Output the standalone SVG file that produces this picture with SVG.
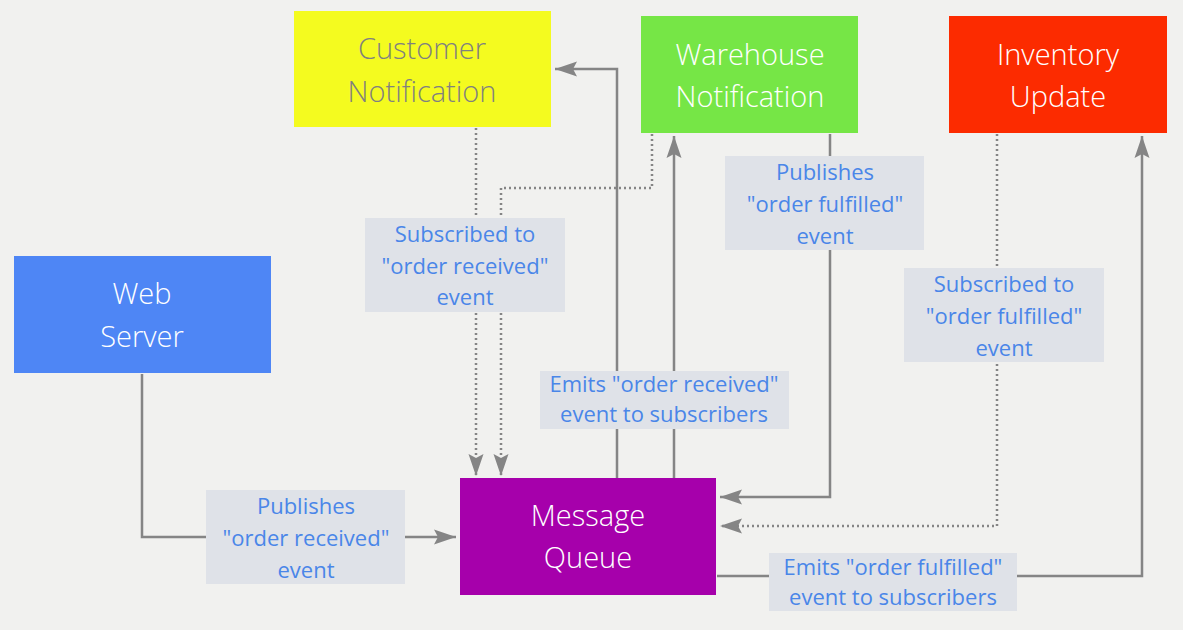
<svg xmlns="http://www.w3.org/2000/svg" width="1183" height="630" viewBox="0 0 1183 630">
<style>
.node text{font-family:"Open Sans","Liberation Sans",sans-serif;font-size:29px;font-weight:300;text-anchor:middle;fill:#ffffff}
.lbl rect{fill:#dfe2e8}
.lbl text{font-family:"Open Sans","Liberation Sans",sans-serif;font-size:22px;text-anchor:middle;fill:#4a86e8}
.c{fill:none;stroke:#858585;stroke-width:2.5}
.d{fill:none;stroke:#858585;stroke-width:2.5;stroke-dasharray:2 3}
</style>
<defs>
<marker id="ah" markerUnits="userSpaceOnUse" markerWidth="24" markerHeight="18" viewBox="-22 -9 24 18" refX="0" refY="0" orient="auto">
<path d="M0,0 L-22,-7.5 L-18,0 L-22,7.5 z" fill="#858585"/>
</marker>
</defs>
<rect width="1183" height="630" fill="#f1f1ef"/>
<g id="connectors">
<path class="c" d="M142,374 V537 H456" marker-end="url(#ah)"/>
<path class="c" d="M617,478 V69 H555" marker-end="url(#ah)"/>
<path class="c" d="M674,478 V136" marker-end="url(#ah)"/>
<path class="c" d="M830,134 V497 H720" marker-end="url(#ah)"/>
<path class="d" d="M997,134 V526 H720" marker-end="url(#ah)"/>
<path class="c" d="M717,576 H1142 V136" marker-end="url(#ah)"/>
<path class="d" d="M476,128 V476" marker-end="url(#ah)"/>
<path class="d" d="M652,134 V188 H501 V476" marker-end="url(#ah)"/>
</g>
<g id="labels">
<g class="lbl" id="lbl-sub-received"><rect x="365" y="218" width="200" height="94"/><text x="465" y="242">Subscribed to</text><text x="465" y="274">"order received"</text><text x="465" y="305">event</text></g>
<g class="lbl" id="lbl-pub-fulfilled"><rect x="725" y="156" width="199" height="94"/><text x="825" y="180">Publishes</text><text x="825" y="212">"order fulfilled"</text><text x="825" y="244">event</text></g>
<g class="lbl" id="lbl-sub-fulfilled"><rect x="904" y="268" width="200" height="94"/><text x="1004" y="292">Subscribed to</text><text x="1004" y="324">"order fulfilled"</text><text x="1004" y="356">event</text></g>
<g class="lbl" id="lbl-emit-received"><rect x="540" y="371" width="249" height="58"/><text x="664" y="392">Emits "order received"</text><text x="664" y="422">event to subscribers</text></g>
<g class="lbl" id="lbl-pub-received"><rect x="206" y="490" width="199" height="94"/><text x="306" y="514">Publishes</text><text x="306" y="546">"order received"</text><text x="306" y="578">event</text></g>
<g class="lbl" id="lbl-emit-fulfilled"><rect x="769" y="553" width="248" height="58"/><text x="893" y="575">Emits "order fulfilled"</text><text x="893" y="605">event to subscribers</text></g>
</g>
<g class="node" id="customer-notification"><rect x="294" y="11" width="257" height="116" fill="#f4fb1f"/><text x="422" y="59" style="fill:#808080">Customer</text><text x="422" y="102" style="fill:#808080">Notification</text></g>
<g class="node" id="warehouse-notification"><rect x="641" y="16" width="217" height="117" fill="#76e646"/><text x="750" y="65">Warehouse</text><text x="750" y="107">Notification</text></g>
<g class="node" id="inventory-update"><rect x="949" y="16" width="218" height="117" fill="#fc2b00"/><text x="1058" y="65">Inventory</text><text x="1058" y="107">Update</text></g>
<g class="node" id="web-server"><rect x="14" y="256" width="257" height="117" fill="#4e86f5"/><text x="142" y="304">Web</text><text x="142" y="347">Server</text></g>
<g class="node" id="message-queue"><rect x="460" y="478" width="256" height="117" fill="#a600ab"/><text x="588" y="526">Message</text><text x="588" y="568">Queue</text></g>
</svg>
